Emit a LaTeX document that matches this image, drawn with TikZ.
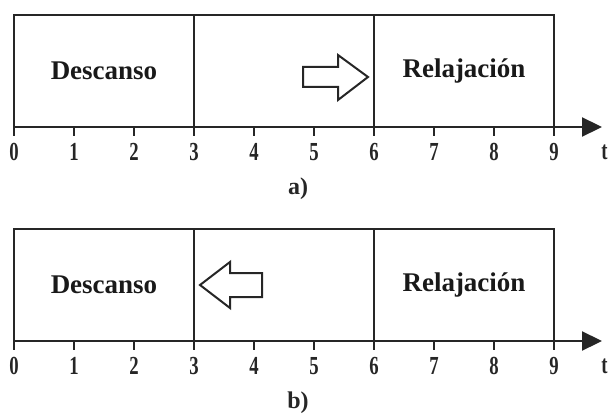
\documentclass[tikz,border=0pt]{standalone}
\usepackage{fontspec}
\setmainfont{Liberation Serif}
\usetikzlibrary{arrows.meta}
\tikzset{
  cell/.style={draw=black!85, line width=2pt, minimum width=180pt, minimum height=112pt,
    inner sep=0pt, font=\fontsize{27}{27}\selectfont\bfseries, text=black!90},
  axisline/.style={draw=black!85, line width=2.2pt, -{Triangle[length=20pt,width=19pt]}},
  tickline/.style={draw=black!85, line width=1.8pt},
  ticklabel/.style={font=\fontsize{26}{26}\selectfont\bfseries, text=black!85, inner sep=0pt},
  blockarrow/.style={draw=black!85, line width=2pt, line join=miter, fill=white},
  caption/.style={font=\fontsize{24}{24}\selectfont\bfseries, text=black!85, inner sep=0pt}
}
\begin{document}
\begin{tikzpicture}[x=1pt,y=-1pt]
\useasboundingbox (0,0) rectangle (609,414);
\foreach \p/\dy/\cap in {a/0/a), b/214/b)} {
  \begin{scope}[shift={(0,\dy)}]
    \node[cell] (\p1) at (104,71) {Descanso};
    \node[cell] (\p2) at (284,71) {};
    \node[cell] (\p3) at (464,71) {Relajación};
    \coordinate (\p start) at (14,127);
    \coordinate (\p end) at (602,127);
    \draw[axisline] (\p start) -- (\p end);
    \foreach \i in {0,...,9} {
      \coordinate (\p t\i) at ({14+60*\i},127);
      \coordinate (\p b\i) at ({14+60*\i},136);
      \draw[tickline] (\p t\i) -- (\p b\i);
      \node[ticklabel] (\p n\i) at ({14+60*\i},152) {\scalebox{0.72}[1]{\i}};
    }
    \node[ticklabel] (\p tt) at (604.5,152) {\scalebox{0.72}[1]{t}};
    \node[caption] (\p cap) at (298,189) {\cap};
  \end{scope}
}
% block arrows
\draw[blockarrow] (303,67) -- (338,67) -- (338,55) -- (368,77) -- (338,100) -- (338,87) -- (303,87) -- cycle;
\draw[blockarrow] (200,285) -- (230,262) -- (230,273) -- (262,273) -- (262,297) -- (230,297) -- (230,308) -- cycle;
\end{tikzpicture}
\end{document}
